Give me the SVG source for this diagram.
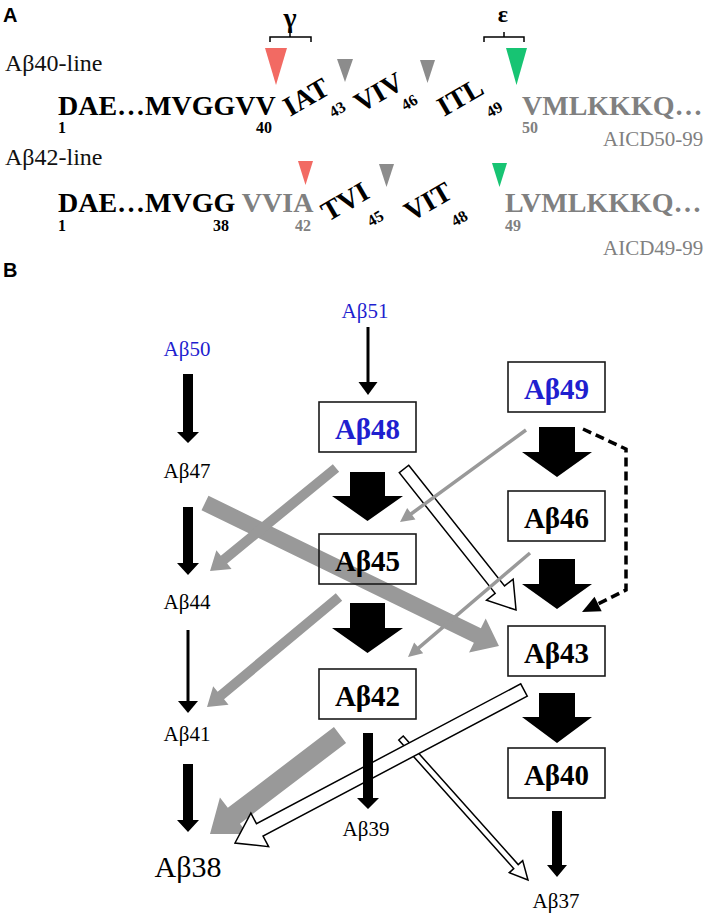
<svg xmlns="http://www.w3.org/2000/svg" width="708" height="916" viewBox="0 0 708 916">
<style>
.lbl{font-family:"Liberation Sans",Arial,sans-serif;font-weight:bold;font-size:20px;fill:#000}
.ser{font-family:"Liberation Serif","Times New Roman",serif;}
.line{font-size:24px;fill:#111}
.seq{font-size:28px;font-weight:bold;fill:#000}
.sub{font-size:16px;font-weight:bold;fill:#000}
.gs{fill:#808080}
.aicd{font-size:21px;fill:#808080}
.node{font-size:21px;fill:#000;text-anchor:middle}
.big{font-size:30px}
.boxt{font-size:29px;font-weight:bold;text-anchor:middle;fill:#000}
.blue{fill:#1f1fcf}
.box{fill:none;stroke:#1a1a1a;stroke-width:1.6}
.blk{fill:#000}
.gry{fill:#999}
.hol{fill:#fff;stroke:#000;stroke-width:1.5;stroke-linejoin:miter}
</style>

<!-- Panel A -->
<g id="panelA">
  <text class="lbl" x="3" y="22">A</text>
  <g id="gamma">
    <text class="ser" x="290" y="27" style="font-size:28px;font-weight:bold" text-anchor="middle">γ</text>
    <path d="M270,42 V37 H311 V42 M290,37 V32" fill="none" stroke="#000" stroke-width="1.5"/>
  </g>
  <g id="epsilon">
    <text class="ser" x="503" y="22" style="font-size:24px;font-weight:bold" text-anchor="middle">ε</text>
    <path d="M484,42 V37 H524 V42 M504,37 V32" fill="none" stroke="#000" stroke-width="1.5"/>
  </g>
  <g id="line40">
    <text class="ser line" x="5" y="71">Aβ40-line</text>
    <polygon points="265,48 287,48 276,85" fill="#f26a63"/>
    <polygon points="337,59 353,59 345,82" fill="#8c8c8c"/>
    <polygon points="420,60 435,60 427.5,83" fill="#8c8c8c"/>
    <polygon points="506,48 527,48 516.5,85" fill="#17c473"/>
    <text class="ser seq" x="58" y="115">DAE…MVGGVV</text>
    <text class="ser sub" x="58" y="133">1</text>
    <text class="ser sub" x="256" y="133">40</text>
    <text class="ser seq" transform="translate(290,117) rotate(-30)">IAT</text>
    <text class="ser sub" transform="translate(333,118) rotate(-30)">43</text>
    <text class="ser seq" transform="translate(361,113) rotate(-30)">VIV</text>
    <text class="ser sub" transform="translate(405,111) rotate(-30)">46</text>
    <text class="ser seq" transform="translate(444,117) rotate(-30)">ITL</text>
    <text class="ser sub" transform="translate(490,118) rotate(-30)">49</text>
    <text class="ser seq gs" x="522" y="115">VMLKKKQ…</text>
    <text class="ser sub gs" x="522" y="133">50</text>
    <text class="ser aicd" x="603" y="146">AICD50-99</text>
  </g>
  <g id="line42">
    <text class="ser line" x="5" y="165">Aβ42-line</text>
    <polygon points="298,161 313,161 305.5,185" fill="#f26a63"/>
    <polygon points="379,164 394,164 386.5,187" fill="#8c8c8c"/>
    <polygon points="492,163 507,163 499.5,187" fill="#17c473"/>
    <text class="ser seq" x="58" y="212">DAE…MVGG <tspan class="gs">VVIA</tspan></text>
    <text class="ser sub" x="58" y="231">1</text>
    <text class="ser sub" x="213" y="231">38</text>
    <text class="ser sub gs" x="295" y="231">42</text>
    <text class="ser seq" transform="translate(328,222) rotate(-30)">TVI</text>
    <text class="ser sub" transform="translate(371,227) rotate(-30)">45</text>
    <text class="ser seq" transform="translate(411,222) rotate(-30)">VIT</text>
    <text class="ser sub" transform="translate(455,227) rotate(-30)">48</text>
    <text class="ser seq gs" x="505" y="212">LVMLKKKQ…</text>
    <text class="ser sub gs" x="505" y="231">49</text>
    <text class="ser aicd" x="603" y="255">AICD49-99</text>
  </g>
</g>

<!-- Panel B -->
<text class="lbl" x="3" y="277">B</text>

<g id="connectors">
  <!-- hollow Ab48 -> Ab43 -->
  <polygon class="hol" transform="translate(404,469) rotate(51.54)" points="0,-6 154.1,-6 154.1,-17 180.1,0 154.1,17 154.1,6 0,6"/>
  <!-- gray thick -->
  <polygon class="gry" transform="translate(205,503) rotate(25.94)" points="0,-8 302.9,-8 302.9,-19 326.9,0 302.9,19 302.9,8 0,8"/>
  <polygon class="gry" transform="translate(336,468) rotate(140.73)" points="0,-5 144.7,-5 144.7,-12 162.7,0 144.7,12 144.7,5 0,5"/>
  <polygon class="gry" transform="translate(339,597) rotate(140.19)" points="0,-5 153.8,-5 153.8,-12 171.8,0 153.8,12 153.8,5 0,5"/>
  <polygon class="gry" transform="translate(340,735) rotate(142.71)" points="0,-10 133.4,-10 133.4,-23 163.4,0 133.4,23 133.4,10 0,10"/>
  <!-- gray thin -->
  <polygon class="gry" transform="translate(526,430) rotate(143.87)" points="0,-1.75 142,-1.75 142,-7 156,0 142,7 142,1.75 0,1.75"/>
  <polygon class="gry" transform="translate(530,553) rotate(139.55)" points="0,-1.75 146.3,-1.75 146.3,-7 160.3,0 146.3,7 146.3,1.75 0,1.75"/>
  <!-- hollow thin Ab42 -> Ab37 -->
  <polygon class="hol" transform="translate(401,738) rotate(48.2)" points="0,-3 172.5,-3 172.5,-9 190.5,0 172.5,9 172.5,3 0,3"/>
  <!-- hollow Ab43 -> Ab38 -->
  <polygon class="hol" transform="translate(524,690) rotate(152.1)" points="0,-7 299,-7 299,-19 327,0 299,19 299,7 0,7"/>
  <!-- black arrows -->
  <polygon class="blk" points="183,374 193,374 193,432 199,432 188,443 177,432 183,432"/>
  <polygon class="blk" points="183,507 193,507 193,563 199,563 188,575 177,563 183,563"/>
  <polygon class="blk" points="183,764 193,764 193,820 199,820 188,832 177,820 183,820"/>
  <polygon class="blk" points="363,733 373,733 373,798 379,798 368,809 357,798 363,798"/>
  <polygon class="blk" points="552,811 562,811 562,865 567,865 557,877 547,865 552,865"/>
  <polygon class="blk" points="350,472 385,472 385,496 403,496 367.5,521 332,496 350,496"/>
  <polygon class="blk" points="350,603 385,603 385,628 403,628 367.5,653 332,628 350,628"/>
  <polygon class="blk" points="539,427 575,427 575,452 592,452 557,477 522,452 539,452"/>
  <polygon class="blk" points="539,559 575,559 575,584 592,584 557,609 522,584 539,584"/>
  <polygon class="blk" points="539,693 575,693 575,717 592,717 557,743 522,717 539,717"/>
  <line x1="188" y1="630" x2="188" y2="703" stroke="#000" stroke-width="3"/>
  <polygon class="blk" points="178,701 198,701 188,713"/>
  <line x1="368" y1="327" x2="368" y2="384" stroke="#000" stroke-width="3"/>
  <polygon class="blk" points="358.5,382 377.5,382 368,395"/>
  <!-- dashed Ab49 -> Ab43 -->
  <path d="M583,429 L626,449 L626,590 L598,604" fill="none" stroke="#000" stroke-width="3.5" stroke-dasharray="9,5"/>
  <polygon class="blk" points="582,612 594.5,596.8 601.7,611.2"/>
</g>

<g id="Ab51"><text class="ser node blue" x="365" y="318">Aβ51</text></g>
<g id="Ab50"><text class="ser node blue" x="187" y="356">Aβ50</text></g>
<g id="Ab47"><text class="ser node" x="187" y="478">Aβ47</text></g>
<g id="Ab44"><text class="ser node" x="187" y="609">Aβ44</text></g>
<g id="Ab41"><text class="ser node" x="187" y="741">Aβ41</text></g>
<g id="Ab38"><text class="ser node big" x="188" y="877">Aβ38</text></g>
<g id="Ab39"><text class="ser node" x="366" y="836">Aβ39</text></g>
<g id="Ab37"><text class="ser node" x="556" y="908">Aβ37</text></g>

<g id="Ab48"><rect class="box" x="319" y="402" width="97" height="50"/><text class="ser boxt blue" x="367.5" y="439">Aβ48</text></g>
<g id="Ab49"><rect class="box" x="508" y="362" width="97" height="50"/><text class="ser boxt blue" x="556.5" y="399">Aβ49</text></g>
<g id="Ab46"><rect class="box" x="508" y="491" width="97" height="50"/><text class="ser boxt" x="556.5" y="528">Aβ46</text></g>
<g id="Ab45"><rect class="box" x="319" y="534" width="97" height="50"/><text class="ser boxt" x="367.5" y="571">Aβ45</text></g>
<g id="Ab43"><rect class="box" x="508" y="626" width="97" height="50"/><text class="ser boxt" x="556.5" y="663">Aβ43</text></g>
<g id="Ab42"><rect class="box" x="319" y="669" width="97" height="50"/><text class="ser boxt" x="367.5" y="706">Aβ42</text></g>
<g id="Ab40"><rect class="box" x="508" y="748" width="97" height="50"/><text class="ser boxt" x="556.5" y="785">Aβ40</text></g>
</svg>
